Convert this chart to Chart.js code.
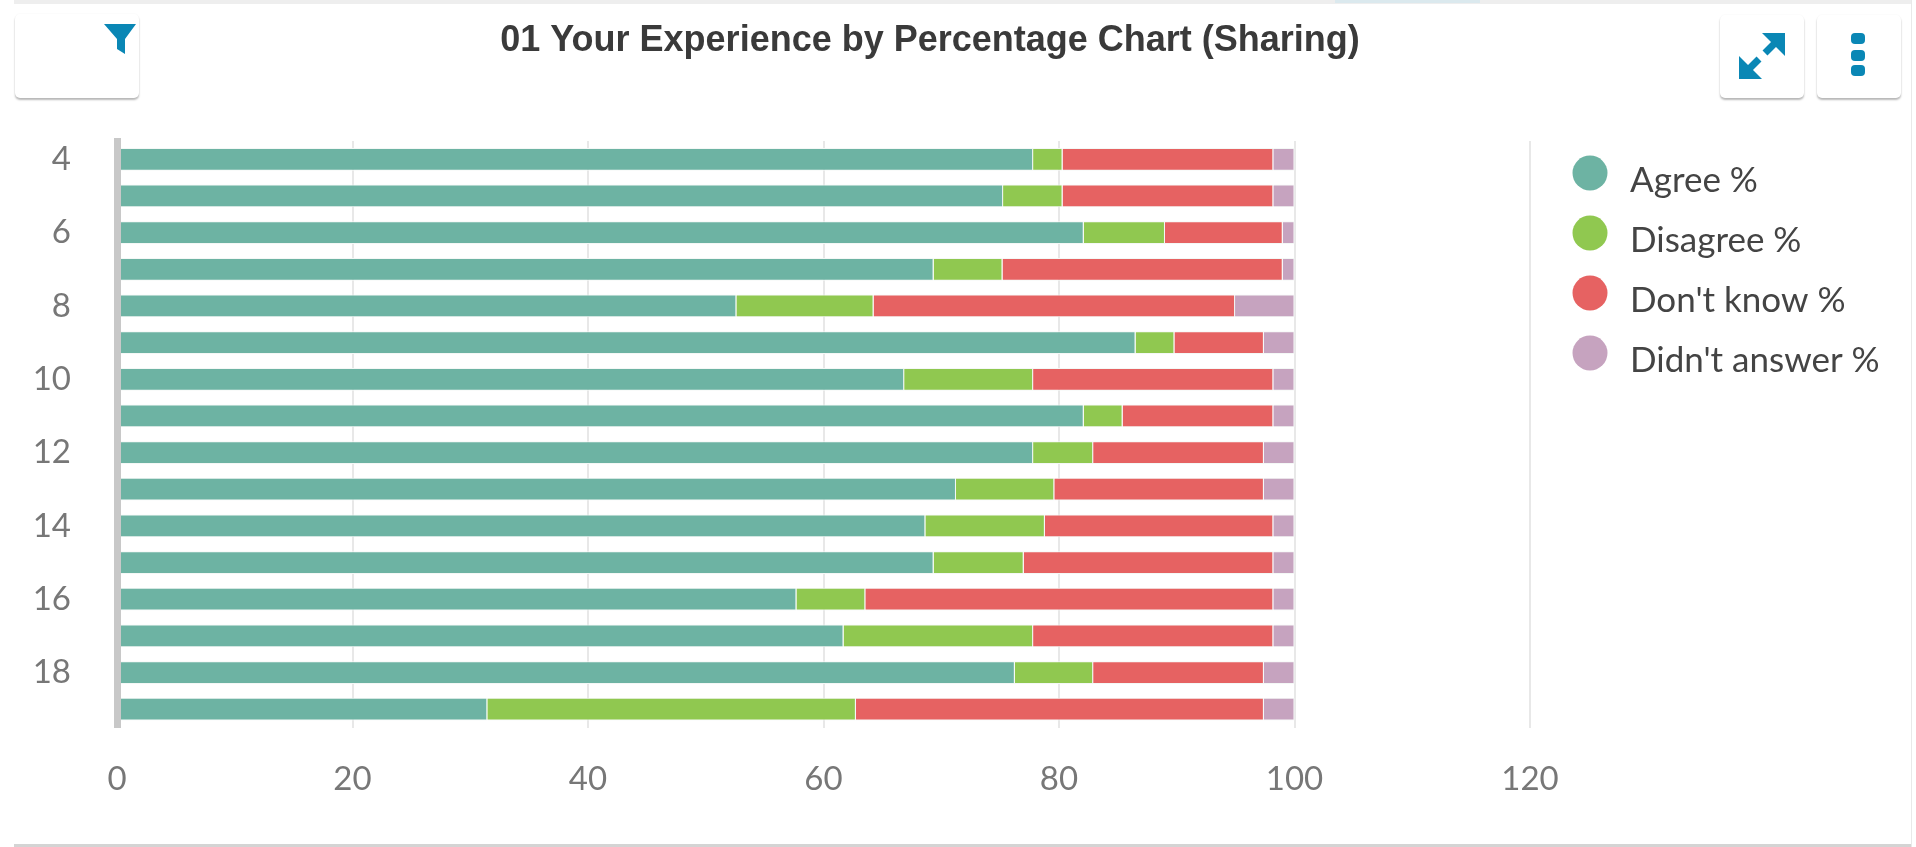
<!DOCTYPE html>
<html><head><meta charset="utf-8">
<script src="https://cdn.jsdelivr.net/npm/chart.js@4"></script>
<style>
html,body{margin:0;padding:0;background:#fff;width:1916px;height:847px;overflow:hidden}
#c{position:absolute;left:0;top:0}
.strip{position:absolute;left:14px;top:0;width:1897px;height:4px;background:#eeeeee}
.strip2{position:absolute;left:1335px;top:0;width:145px;height:3px;background:#dbe9ee}
.foot{position:absolute;left:14px;top:844px;width:1897px;height:3px;background:#d4d4d4}
.edge{position:absolute;left:1911px;top:0;width:1px;height:847px;background:#e9e9e9}
.btn{position:absolute;background:#fff;border-radius:5px;box-shadow:0 2px 2px rgba(0,0,0,.28),0 0 2px rgba(0,0,0,.06)}
svg{position:absolute}
</style></head><body>
<canvas id="c" width="1916" height="847"></canvas>
<div class="strip"></div><div class="strip2"></div><div class="foot"></div><div class="edge"></div>
<div class="btn" style="left:15px;top:14px;width:124px;height:84px"></div>
<div class="btn" style="left:1720px;top:15px;width:84px;height:83px"></div>
<div class="btn" style="left:1817px;top:15px;width:84px;height:83px"></div>
<svg style="left:103px;top:22px" width="34" height="34" viewBox="0 0 34 34"><path d="M1 2H33L22 17V32L14 27V17Z" fill="#0a87b5"/></svg>
<svg style="left:1736px;top:30px" width="52" height="52" viewBox="0 0 52 52"><g fill="#0a87b5" stroke="#0a87b5"><path stroke="none" d="M26 3H49V26Z"/><path stroke="none" d="M3 49V26L26 49Z"/><path fill="none" stroke-width="7" d="M39 13L29 23M23 29L13 39"/></g></svg>
<svg style="left:1843px;top:30px" width="32" height="52" viewBox="0 0 32 52"><g fill="#0a87b5"><rect x="8" y="3" width="14" height="11" rx="4"/><rect x="8" y="20" width="14" height="11" rx="4"/><rect x="8" y="35" width="14" height="11" rx="4"/></g></svg>
<script>
const categories = ["4","5","6","7","8","9","10","11","12","13","14","15","16","17","18","19"];
const seriesNames = ["Agree %","Disagree %","Don't know %","Didn't answer %"];
const agree     = [77.8,75.25,82.1,69.35,52.6,86.5,66.85,82.1,77.8,71.25,68.65,69.35,57.7,61.7,76.25,31.45];
const disagree  = [2.5,5.05,6.9,5.85,11.65,3.3,10.95,3.3,5.1,8.35,10.15,7.65,5.85,16.1,6.65,31.3];
const dontKnow  = [17.9,17.9,10.0,23.8,30.7,7.6,20.4,12.8,14.5,17.8,19.4,21.2,34.65,20.4,14.5,34.65];
const noAnswer  = [1.8,1.8,1.0,1.0,5.05,2.6,1.8,1.8,2.6,2.6,1.8,1.8,1.8,1.8,2.6,2.6];
const xTicks    = [0,20,40,60,80,100,120];
const colors    = ["#6db3a3","#90c850","#e66262","#c6a3bf"];
const titleText = "01 Your Experience by Percentage Chart (Sharing)";

function dot(color){
  const c=document.createElement('canvas');c.width=36;c.height=52;
  const g=c.getContext('2d');g.fillStyle=color;g.beginPath();g.arc(18,18,17.5,0,Math.PI*2);g.fill();
  return c;
}
const dots=colors.map(dot);
const place={id:'place',afterLayout(chart){
  chart.titleBlock.left=0;chart.titleBlock.right=1860;
  const L=chart.legend;L.left=1542.5;L.top=138.5;L.right=1916;L.bottom=500;L.width=373.5;L.height=361.5;
}};
const tickFont="Lato";
new Chart(document.getElementById('c'),{
  type:'bar',
  data:{labels:categories,datasets:[agree,disagree,dontKnow,noAnswer].map((d,i)=>({
    label:seriesNames[i],data:d,backgroundColor:colors[i],borderColor:'#f4f8f6',borderWidth:1,
    categoryPercentage:1,barPercentage:0.62}))},
  options:{
    indexAxis:'y',responsive:false,animation:false,
    layout:{padding:{left:0,right:386,top:0,bottom:0}},
    scales:{
      x:{stacked:true,min:0,max:120,afterBuildTicks(s){s.ticks=xTicks.map(v=>({value:v}));},
         grid:{color:'#e8e8e8',lineWidth:2,drawTicks:false},border:{display:false},
         ticks:{padding:32,maxRotation:0,color:'#777',font:{family:tickFont,size:33},autoSkip:false},
         afterFit(s){s.height=119.5;}},
      y:{stacked:true,grid:{display:false,drawTicks:false},border:{color:'#c8c8c8',width:7,z:1},
         ticks:{padding:46,color:'#777',font:{family:tickFont,size:33},autoSkip:false,
           callback(v,i){return i%2===0?this.getLabelForValue(v):'';}},
         afterFit(s){s.width=117;}}
    },
    plugins:{
      title:{display:true,text:titleText,color:'#3a3a3a',font:{family:'Liberation Sans',size:36,weight:'bold',lineHeight:1.2},padding:{top:19.4,bottom:78.4}},
      tooltip:{enabled:false},
      legend:{position:'chartArea',align:'start',labels:{usePointStyle:true,pointStyleWidth:45,padding:25,color:'#444',font:{family:tickFont,size:35},
        generateLabels(ch){const l=Chart.defaults.plugins.legend.labels.generateLabels(ch);l.forEach((it,i)=>{it.pointStyle=dots[i];});return l;}}}
    }
  },
  plugins:[place]
});
</script></body></html>
